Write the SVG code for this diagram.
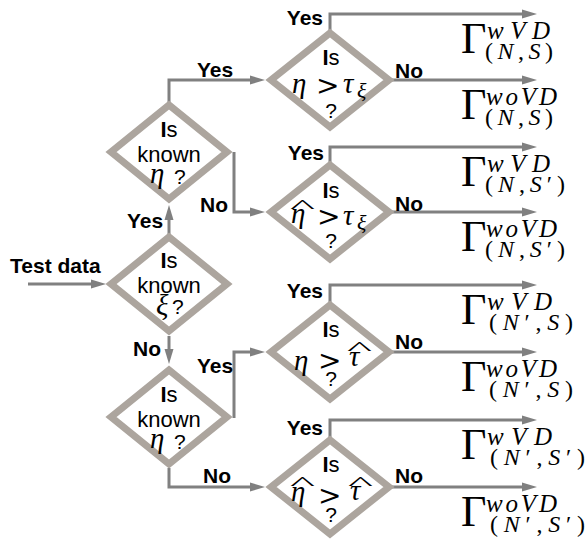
<svg xmlns="http://www.w3.org/2000/svg" width="587" height="543" viewBox="0 0 587 543">
<style>
.dm{fill:#fff;stroke:#aca59e;stroke-width:7;stroke-linejoin:miter}
.cn{fill:none;stroke:#808080;stroke-width:3}
.lb{font-family:"Liberation Sans",Arial,sans-serif;font-weight:bold;font-size:21px;fill:#000}
.tx{font-family:"Liberation Sans",Arial,sans-serif;font-size:22px;fill:#000}
.q{font-family:"Liberation Sans",Arial,sans-serif;font-size:21px;fill:#000}
.mi{font-family:"Liberation Serif","Times New Roman",serif;font-style:italic;font-size:29px;fill:#000}
.ms{font-family:"Liberation Serif","Times New Roman",serif;font-style:italic;font-size:22px;fill:#000}
.gt{font-family:"DejaVu Serif",serif;font-size:28px;fill:#000}
.hat{font-family:"Liberation Serif",serif;font-size:38px;fill:#000}
.G{font-family:"Liberation Serif","Times New Roman",serif;font-size:44px;fill:#000}
.sp{font-family:"Liberation Serif","Times New Roman",serif;font-style:italic;font-size:25px;fill:#000}
.sb{font-family:"Liberation Serif","Times New Roman",serif;font-size:24px;fill:#000}
.sbi{font-style:italic}
</style>
<defs>
<marker id="ah" markerUnits="userSpaceOnUse" markerWidth="15" markerHeight="10" refX="7" refY="5" orient="auto">
<path d="M0,0.5 L15,5 L0,9.5 z" fill="#808080"/>
</marker>
</defs>

<g id="connectors">
<path class="cn" marker-end="url(#ah)" d="M28,284 H98"/>
<path class="cn" marker-end="url(#ah)" d="M169,234 V213"/>
<path class="cn" marker-end="url(#ah)" d="M169,336 V356"/>
<path class="cn" marker-end="url(#ah)" d="M169,102 V80 H257"/>
<path class="cn" marker-end="url(#ah)" d="M234,152 V212 H257"/>
<path class="cn" marker-end="url(#ah)" d="M234,418 V352 H257"/>
<path class="cn" marker-end="url(#ah)" d="M169,468 V487 H257"/>
<path class="cn" marker-end="url(#ah)" d="M330,30 V14 H529"/>
<path class="cn" marker-end="url(#ah)" d="M392,80 H529"/>
<path class="cn" marker-end="url(#ah)" d="M330,162 V147 H529"/>
<path class="cn" marker-end="url(#ah)" d="M392,212 H529"/>
<path class="cn" marker-end="url(#ah)" d="M330,302 V285 H529"/>
<path class="cn" marker-end="url(#ah)" d="M392,352 H529"/>
<path class="cn" marker-end="url(#ah)" d="M330,437 V420 H529"/>
<path class="cn" marker-end="url(#ah)" d="M392,487 H529"/>
<text class="lb" x="10" y="273">Test data</text>
<text class="lb" x="127" y="228">Yes</text>
<text class="lb" x="133" y="356">No</text>
<text class="lb" x="197" y="77">Yes</text>
<text class="lb" x="200" y="212">No</text>
<text class="lb" x="197" y="373">Yes</text>
<text class="lb" x="203" y="483">No</text>
<text class="lb" x="323" y="25" text-anchor="end">Yes</text>
<text class="lb" x="395" y="78">No</text>
<text class="lb" x="324" y="160" text-anchor="end">Yes</text>
<text class="lb" x="395" y="211">No</text>
<text class="lb" x="323" y="298" text-anchor="end">Yes</text>
<text class="lb" x="395" y="349">No</text>
<text class="lb" x="323" y="435" text-anchor="end">Yes</text>
<text class="lb" x="395" y="483">No</text>
</g>

<g id="known-eta-1">
<polygon class="dm" points="169,105 227,152 169,199 111,152"/>
<text class="tx" x="169" y="137" text-anchor="middle"><tspan font-weight="bold">I</tspan>s</text>
<text class="tx" x="169" y="162" text-anchor="middle">known</text>
<text class="mi" x="150" y="183">η</text>
<text class="q" x="174" y="184">?</text>
</g>

<g id="known-xi">
<polygon class="dm" points="169,237 227,284 169,331 111,284"/>
<text class="tx" x="169" y="268" text-anchor="middle"><tspan font-weight="bold">I</tspan>s</text>
<text class="tx" x="169" y="293" text-anchor="middle">known</text>
<text class="mi" x="156" y="315" font-size="25">ξ</text>
<text class="q" x="172" y="314">?</text>
</g>

<g id="known-eta-2">
<polygon class="dm" points="169,370 227,417 169,464 111,417"/>
<text class="tx" x="169" y="402" text-anchor="middle"><tspan font-weight="bold">I</tspan>s</text>
<text class="tx" x="169" y="427" text-anchor="middle">known</text>
<text class="mi" x="150" y="448">η</text>
<text class="q" x="174" y="449">?</text>
</g>

<g id="cmp-eta-tauxi">
<polygon class="dm" points="330,33 389,80 330,127 271,80"/>
<text class="tx" x="331" y="65" text-anchor="middle"><tspan font-weight="bold">I</tspan>s</text>
<text class="mi" x="292" y="93">η</text>
<text class="gt" x="316" y="95">&gt;</text>
<text class="mi" x="343" y="93">τ</text>
<text class="ms" x="357" y="98">ξ</text>
<text class="q" x="331" y="118" text-anchor="middle">?</text>
</g>

<g id="cmp-etahat-tauxi">
<polygon class="dm" points="330,165 389,212 330,259 271,212"/>
<text class="tx" x="331" y="198" text-anchor="middle"><tspan font-weight="bold">I</tspan>s</text>
<text class="hat" transform="translate(290,213) scale(1.4,0.5)">^</text>
<text class="mi" x="291" y="223">η</text>
<text class="gt" x="317" y="226">&gt;</text>
<text class="mi" x="343" y="225">τ</text>
<text class="ms" x="357" y="230">ξ</text>
<text class="q" x="331" y="248" text-anchor="middle">?</text>
</g>

<g id="cmp-eta-tauhat">
<polygon class="dm" points="330,305 389,352 330,399 271,352"/>
<text class="tx" x="331" y="337" text-anchor="middle"><tspan font-weight="bold">I</tspan>s</text>
<text class="mi" x="294" y="370">η</text>
<text class="gt" x="318" y="370">&gt;</text>
<text class="hat" transform="translate(347,355) scale(1.4,0.5)">^</text>
<text class="mi" x="349" y="366">τ</text>
<text class="q" x="331" y="386" text-anchor="middle">?</text>
</g>

<g id="cmp-etahat-tauhat">
<polygon class="dm" points="330,440 389,487 330,534 271,487"/>
<text class="tx" x="331" y="472" text-anchor="middle"><tspan font-weight="bold">I</tspan>s</text>
<text class="hat" transform="translate(290,490) scale(1.4,0.5)">^</text>
<text class="mi" x="291" y="501">η</text>
<text class="gt" x="318" y="505">&gt;</text>
<text class="hat" transform="translate(348,490) scale(1.4,0.5)">^</text>
<text class="mi" x="350" y="500">τ</text>
<text class="q" x="331" y="522" text-anchor="middle">?</text>
</g>

<g id="out-1">
<text class="G" x="461" y="53">Γ</text>
<text class="sp" x="487" y="39" textLength="63" lengthAdjust="spacing">wVD</text>
<text class="sb" x="485" y="59" textLength="68" lengthAdjust="spacing">(<tspan class="sbi">N</tspan>,<tspan class="sbi">S</tspan>)</text>
</g>
<g id="out-2">
<text class="G" x="461" y="119">Γ</text>
<text class="sp" x="486" y="105" textLength="71" lengthAdjust="spacing">woVD</text>
<text class="sb" x="485" y="125" textLength="68" lengthAdjust="spacing">(<tspan class="sbi">N</tspan>,<tspan class="sbi">S</tspan>)</text>
</g>
<g id="out-3">
<text class="G" x="461" y="186">Γ</text>
<text class="sp" x="487" y="172" textLength="63" lengthAdjust="spacing">wVD</text>
<text class="sb" x="485" y="192" textLength="80" lengthAdjust="spacing">(<tspan class="sbi">N</tspan>,<tspan class="sbi">S</tspan>′)</text>
</g>
<g id="out-4">
<text class="G" x="461" y="251">Γ</text>
<text class="sp" x="486" y="237" textLength="71" lengthAdjust="spacing">woVD</text>
<text class="sb" x="485" y="257" textLength="80" lengthAdjust="spacing">(<tspan class="sbi">N</tspan>,<tspan class="sbi">S</tspan>′)</text>
</g>
<g id="out-5">
<text class="G" x="461" y="324">Γ</text>
<text class="sp" x="487" y="310" textLength="65" lengthAdjust="spacing">wVD</text>
<text class="sb" x="489" y="330" textLength="84" lengthAdjust="spacing">(<tspan class="sbi">N</tspan>′,<tspan class="sbi">S</tspan>)</text>
</g>
<g id="out-6">
<text class="G" x="461" y="391">Γ</text>
<text class="sp" x="486" y="377" textLength="71" lengthAdjust="spacing">woVD</text>
<text class="sb" x="489" y="397" textLength="84" lengthAdjust="spacing">(<tspan class="sbi">N</tspan>′,<tspan class="sbi">S</tspan>)</text>
</g>
<g id="out-7">
<text class="G" x="461" y="459">Γ</text>
<text class="sp" x="487" y="445" textLength="65" lengthAdjust="spacing">wVD</text>
<text class="sb" x="490" y="465" textLength="95" lengthAdjust="spacing">(<tspan class="sbi">N</tspan>′,<tspan class="sbi">S</tspan>′)</text>
</g>
<g id="out-8">
<text class="G" x="461" y="526">Γ</text>
<text class="sp" x="486" y="512" textLength="71" lengthAdjust="spacing">woVD</text>
<text class="sb" x="490" y="532" textLength="95" lengthAdjust="spacing">(<tspan class="sbi">N</tspan>′,<tspan class="sbi">S</tspan>′)</text>
</g>
</svg>
